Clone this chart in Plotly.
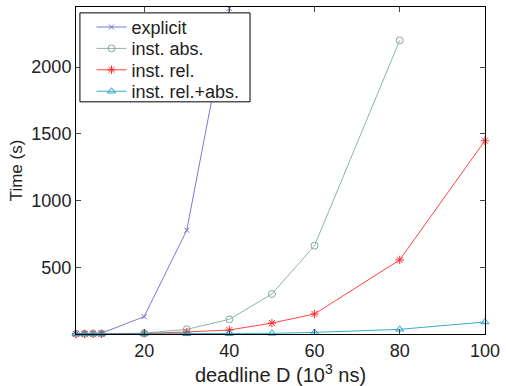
import plotly.graph_objects as go

x_explicit = [4, 6, 8, 10, 20, 30, 40]
y_explicit = [2, 3, 4, 6, 130, 778, 2440]

x_abs = [4, 6, 8, 10, 20, 30, 40, 50, 60, 80]
y_abs = [1, 2, 2, 3, 6, 35, 110, 300, 662, 2200]

x_rel = [4, 6, 8, 10, 20, 30, 40, 50, 60, 80, 100]
y_rel = [1, 1, 2, 2, 4, 15, 30, 82, 150, 555, 1448]

x_relabs = [4, 6, 8, 10, 20, 30, 40, 50, 60, 80, 100]
y_relabs = [1, 1, 1, 1, 1, 2, 3, 5, 12, 35, 90]

x_ticks = [20, 40, 60, 80, 100]
y_ticks = [500, 1000, 1500, 2000]

series = [
    ("explicit", x_explicit, y_explicit, "#6a6ad0", "x-thin-open", 5),
    ("inst. abs.", x_abs, y_abs, "#82ab98", "circle-open", 7),
    ("inst. rel.", x_rel, y_rel, "#ff2e2e", "asterisk-open", 7),
    ("inst. rel.+abs.", x_relabs, y_relabs, "#22a2c8", "triangle-up-open", 7),
]

# legend row centres (paper fraction of plot area)
legend_rows = [0.938, 0.8725, 0.807, 0.7415]

fig = go.Figure()
for i, (name, xs, ys, col, sym, sz) in enumerate(series):
    lg = "legend" if i == 0 else f"legend{i + 1}"
    fig.add_trace(go.Scatter(
        x=xs, y=ys, name=name, mode="lines+markers",
        line=dict(color=col, width=0.9),
        marker=dict(symbol=sym, size=sz, color=col, line=dict(color=col, width=1)),
        cliponaxis=False, legend=lg,
    ))

font = "Liberation Sans, Arial, Helvetica, sans-serif"
legend_style = dict(
    x=0.038, xanchor="left", yanchor="middle",
    borderwidth=0, bgcolor="rgba(0,0,0,0)",
    font=dict(size=18, family=font, color="#222"), itemwidth=30,
)
layout_legends = {}
for i, yv in enumerate(legend_rows):
    key = "legend" if i == 0 else f"legend{i + 1}"
    layout_legends[key] = dict(legend_style, y=yv)

fig.update_layout(
    width=506, height=386,
    margin=dict(l=76, r=14, t=6, b=52),
    paper_bgcolor="white", plot_bgcolor="white",
    font=dict(family=font, size=18, color="#222"),
    showlegend=True,
    **layout_legends,
    shapes=[dict(
        type="rect", xref="paper", yref="paper",
        x0=0.0096, x1=0.4255, y0=0.710, y1=0.982,
        line=dict(color="black", width=1), fillcolor="white", layer="above",
    )],
    xaxis=dict(
        range=[4, 100.02], tickvals=x_ticks, ticks="inside", ticklen=5,
        showline=True, linecolor="black", linewidth=1, mirror="ticks",
        showgrid=False, zeroline=False, ticklabeloverflow="allow",
        title=dict(text="deadline D (10<sup>3</sup> ns)", standoff=2,
                   font=dict(size=20)),
    ),
    yaxis=dict(
        range=[0, 2450], tickvals=y_ticks, ticks="inside", ticklen=5,
        showline=True, linecolor="black", linewidth=1, mirror="ticks",
        showgrid=False, zeroline=False,
        title=dict(text="Time (s)", standoff=4, font=dict(size=17)),
    ),
)

fig.write_html(
    "out.html",
    config={"displayModeBar": False},
    post_script="document.body.style.margin='0';document.body.style.padding='0';",
)
